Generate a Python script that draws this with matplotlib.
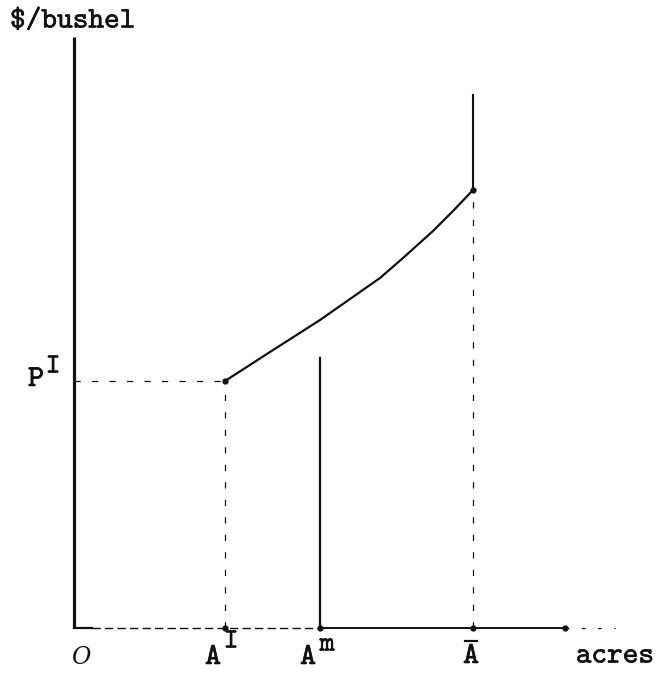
import numpy as np
import matplotlib.pyplot as plt
import matplotlib.patheffects as pe

# land market diagram: price per bushel against acres
A_I = 151      # acres at the lower price
A_m = 246
A_bar = 399
A_end = 491
axis_end = 541
P_I = 247
y_top = 591

# price curve between A^I and A-bar
curve_x = [151, 196, 246, 306, 329, 359, 379, 399]
curve_y = [247, 276, 308, 350, 370, 397, 417, 438]

Am_top = 270
Abar_top = 533

mono = 'cmtt10'

fig = plt.figure(figsize=(6.58, 6.77), dpi=100)
ax = fig.add_axes([0, 0, 1, 1])
ax.set_xlim(-74, 584)
ax.set_ylim(-49, 628)
ax.axis('off')

ink = '#111111'
dash = dict(color=ink, lw=0.9, dashes=(5, 9))
heavy = [pe.withStroke(linewidth=0.4, foreground=ink)]

# axes
ax.plot([0, 0], [0, y_top], color=ink, lw=2.3, solid_capstyle='butt')
ax.plot([0, 18], [0, 0], color=ink, lw=1.6)
ax.plot([18, A_m], [0, 0], color=ink, lw=1.0, dashes=(6, 3))
ax.plot([A_m, A_end], [0, 0], color=ink, lw=1.4)
ax.plot([A_end, axis_end], [0, 0], color=ink, lw=0.9, dashes=(3, 10))

# guide lines
ax.plot([0, A_I], [P_I, P_I], **dash)
ax.plot([A_I, A_I], [0, P_I], **dash)
ax.plot([A_bar, A_bar], [0, curve_y[-1]], **dash)

# solid verticals
ax.plot([A_m, A_m], [0, Am_top], color=ink, lw=1.6)
ax.plot([A_bar, A_bar], [curve_y[-1], Abar_top], color=ink, lw=1.5)

# price curve
ax.plot(curve_x, curve_y, color=ink, lw=1.6, solid_joinstyle='round')

# dots
px = [A_I, A_I, A_m, A_bar, A_bar, A_end]
py = [P_I, 0, 0, 0, curve_y[-1], 0]
ax.plot(px, py, 'o', color=ink, ms=3.5)

# labels
def label(x, y, s, size, **kw):
    ax.text(x, y, s, family=mono, fontsize=size, va='center', ha='center',
            color=ink, path_effects=heavy, **kw)

ax.text(-64, 606, '$/bushel', family=mono, fontsize=21.5, va='center', ha='left',
        color=ink, path_effects=heavy)
label(541, -29, 'acres', 21.5)
ax.text(7, -29, 'O', family='DejaVu Serif', style='italic', fontsize=17,
        va='center', ha='center', color=ink)

label(139, -30, 'A', 22)
label(157, -14, 'I', 20)
label(234, -30, 'A', 22)
label(253, -17, 'm', 20)
label(397, -29, 'A', 22)
ax.plot([391, 403], [-13, -13], color=ink, lw=1.6)
label(-38, 248, 'P', 22)
label(-21, 261, 'I', 20)

fig.savefig('out.png', dpi=100)
